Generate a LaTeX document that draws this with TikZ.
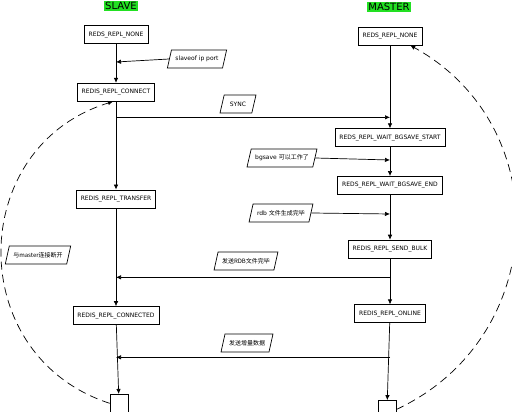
\documentclass[tikz,border=0pt]{standalone}
\usepackage{fontspec}
\setmainfont{DejaVu Sans}
\newfontfamily\cjk{Noto Sans CJK SC}
\usetikzlibrary{arrows.meta,positioning,shapes.geometric,calc}
\definecolor{hl}{HTML}{22E022}

\begin{document}
\begin{tikzpicture}[->,>={Latex[length=5pt,width=4.5pt]},line width=0.7pt,x=1pt,y=1pt,
    font=\fontsize{6}{7}\selectfont,
    box/.style={draw,rectangle,minimum height=18pt,inner xsep=4.5pt},
    tag/.style={draw,trapezium,trapezium left angle=72,trapezium right angle=108,
      trapezium stretches=true,minimum height=18pt,minimum width=36pt,inner xsep=4pt},
    side/.style={fill=hl,inner sep=1pt,font=\fontsize{10}{12}\selectfont},
    drop/.style={dash pattern=on 8pt off 5pt}]
    \useasboundingbox (0,0) rectangle (512,412);

    %slave column
    \node[side] (slave) at (121,406) {SLAVE};
    \node[box] (s_0) at (116,377.5) {REDS\_REPL\_NONE};
    \node[box] (s_1) [below=39pt of s_0] {REDIS\_REPL\_CONNECT};
    \node[box] (s_2) [below=88pt of s_1] {REDIS\_REPL\_TRANSFER};
    \node[box] (s_3) [below=98pt of s_2] {REDIS\_REPL\_CONNECTED};
    \node[draw,minimum size=18pt] (s_4) [below=69pt of s_3,xshift=3pt] {};

    %master column
    \node[side] (master) at (389,405) {MASTER};
    \node[box] (m_0) at (390,376) {REDS\_REPL\_NONE};
    \node[box] (m_1) [below=83pt of m_0] {REDS\_REPL\_WAIT\_BGSAVE\_START};
    \node[box] (m_2) [below=29pt of m_1] {REDS\_REPL\_WAIT\_BGSAVE\_END};
    \node[box] (m_3) [below=45pt of m_2] {REDIS\_REPL\_SEND\_BULK};
    \node[box] (m_4) [below=46pt of m_3] {REDIS\_REPL\_ONLINE};
    \node[draw,minimum size=18pt] (m_5) [below=77pt of m_4,xshift=-3pt] {};

    %events
    \node[tag] (t_0) at (197,353) {slaveof ip port};
    \node[tag] (t_1) at (238,308) {SYNC};
    \node[tag] (t_2) at (282,254) {bgsave {\cjk 可以工作了}};
    \node[tag] (t_3) at (281,199) {rdb {\cjk 文件生成完毕}};
    \node[tag] (t_4) at (246,151) {\cjk 发送RDB文件完毕};
    \node[tag] (t_5) at (247,69) {\cjk 发送增量数据};
    \node[tag] (t_6) at (38,157) {\cjk 与master连接断开};

    %line ends
    \coordinate (c_0) at ($(t_1.south -| s_1.south)+(0,-4)$);
    \coordinate (c_1) at ($(t_1.south -| m_0.south)+(0,-4)$);
    \coordinate (c_2) at ($(t_4.south -| m_3.south)+(0,-7)$);
    \coordinate (c_3) at ($(t_4.south -| s_2.south)+(0,-7)$);
    \coordinate (c_4) at ($(t_5.south -| m_4.south)+(0,-5)$);
    \coordinate (c_5) at ($(t_5.south -| s_3.south)+(0,-5)$);
    \coordinate (c_6) at ($(t_0.west -| s_0.south)+(0,-3)$);
    \coordinate (c_7) at ($(t_2.east -| m_1.south)+(0,-2)$);
    \coordinate (c_8) at ($(t_3.east -| m_2.south)+(0,-1)$);

    %slave path
    \path[->]
    (s_0) edge (s_1)
    (s_1) edge (s_2)
    (s_2) edge (s_3)
    (s_3) edge (s_4);

    %master path
    \path[->]
    (m_0) edge (m_1)
    (m_1) edge (m_2)
    (m_2) edge (m_3)
    (m_3) edge (m_4)
    (m_4) edge (m_5);

    %messages
    \path[->]
    (t_0.west) edge (c_6)
    (c_0) edge (c_1)
    (t_2.east) edge (c_7)
    (t_3.east) edge (c_8)
    (c_2) edge (c_3)
    (c_4) edge (c_5);

    %back to start
    \path[->,drop]
    (s_4.west) edge[out=162,in=197,looseness=1.3] ([xshift=-3pt]s_1.south)
    (m_5.east) edge[out=25,in=-29,looseness=1.18] ([xshift=-12pt]m_0.south east);
\end{tikzpicture}
\end{document}
